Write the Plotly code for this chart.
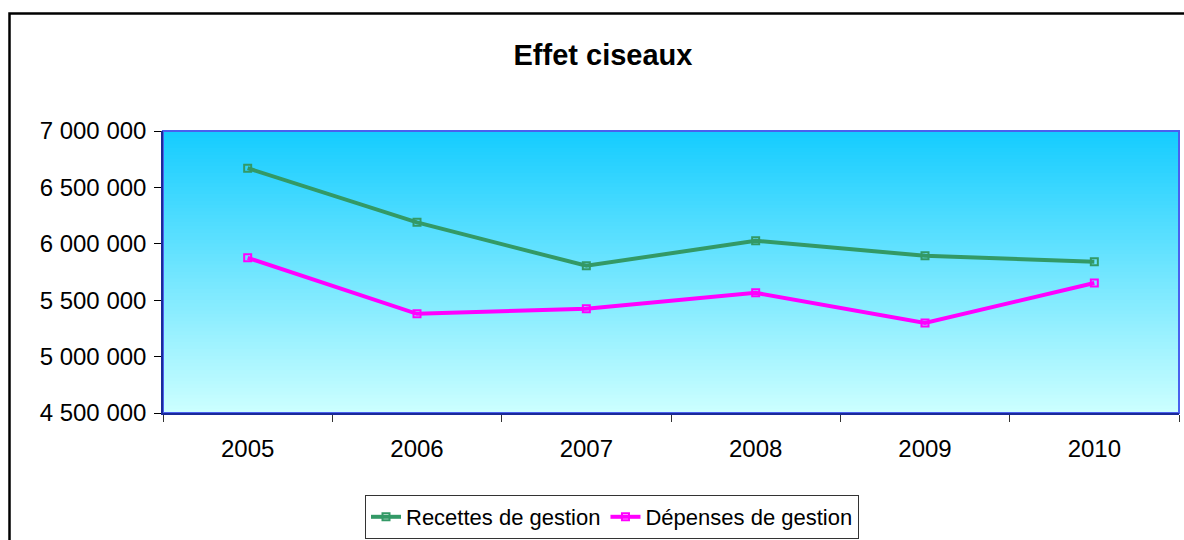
import plotly.graph_objects as go

years = ["2005", "2006", "2007", "2008", "2009", "2010"]
recettes = [6670000, 6190000, 5805000, 6027000, 5894000, 5841000]
depenses = [5876000, 5379000, 5424000, 5565000, 5298000, 5652000]
y_ticks = [4500000, 5000000, 5500000, 6000000, 6500000, 7000000]

W, H = 1184, 540
L, R, T, B = 163, 5, 131, 127
PW, PH = W - L - R, H - T - B

FONT = "Liberation Sans, Arial, sans-serif"

fig = go.Figure()
fig.add_trace(go.Scatter(
    x=years, y=recettes, name="Recettes de gestion", mode="lines+markers",
    line=dict(color="#339966", width=4),
    marker=dict(symbol="square-open", size=7, color="#339966", line=dict(width=2)),
))
fig.add_trace(go.Scatter(
    x=years, y=depenses, name="Dépenses de gestion", mode="lines+markers",
    line=dict(color="#FF00FF", width=4),
    marker=dict(symbol="square-open", size=7, color="#FF00FF", line=dict(width=2)),
))

# vertical gradient background for plot area
shapes = []
N = 80
top = (20, 204, 255)
bot = (204, 255, 255)
for i in range(N):
    f = (i + 0.5) / N
    c = tuple(round(top[k] + (bot[k] - top[k]) * f) for k in range(3))
    shapes.append(dict(type="rect", xref="x domain", yref="y domain",
                       x0=0, x1=1, y0=1 - (i + 1) / N - 0.002, y1=1 - i / N + 0.002,
                       fillcolor="rgb(%d,%d,%d)" % c, line=dict(width=0), layer="below"))
# plot area border
shapes.append(dict(type="rect", xref="x domain", yref="y domain", x0=0, x1=1, y0=0, y1=1,
                   line=dict(color="#4A60EE", width=2), layer="below"))
# outer chart border
shapes.append(dict(type="rect", xref="paper", yref="paper",
                   x0=(9.5 - L) / PW, x1=(1200 - L) / PW,
                   y0=(H - B - 570) / PH, y1=(H - B - 13.5) / PH,
                   line=dict(color="black", width=2.5), layer="above"))

fig.update_layout(
    width=W, height=H, autosize=False,
    margin=dict(l=L, r=R, t=T, b=B, pad=0, autoexpand=False),
    paper_bgcolor="white", plot_bgcolor="rgba(0,0,0,0)",
    separators=", ",
    font=dict(family=FONT, size=24, color="black"),
    title=dict(text="<b>Effet ciseaux</b>", x=603 / W, xanchor="center",
               y=1 - 55 / H, yanchor="middle", font=dict(size=29, family=FONT)),
    shapes=shapes,
    showlegend=True,
    legend=dict(orientation="h", x=(365 - L) / PW, xanchor="left",
                y=(H - B - 495) / PH, yanchor="top",
                bordercolor="#333333", borderwidth=1, bgcolor="white",
                font=dict(size=22, family=FONT), itemwidth=30,
                tracegroupgap=0),
)
fig.update_xaxes(
    type="category", range=[-0.5, len(years) - 0.5],
    tickson="boundaries", ticks="outside", ticklen=7,
    tickcolor="#333333", showgrid=False, showline=True, linecolor="#1A2A9A",
    linewidth=1.5, zeroline=False, ticklabelstandoff=13,
    tickfont=dict(size=24),
)
fig.update_yaxes(
    range=[4500000, 7000000], tickvals=y_ticks, tickformat=",d",
    ticks="outside", ticklen=7, tickcolor="black", showgrid=False,
    showline=True, linecolor="#1A2A9A", linewidth=1.5, zeroline=False,
    ticklabelstandoff=3, tickfont=dict(size=24),
)

fig.write_html(
    "out.html",
    config={"displayModeBar": False},
    post_script="document.body.style.margin='0';document.body.style.overflow='hidden';",
)
